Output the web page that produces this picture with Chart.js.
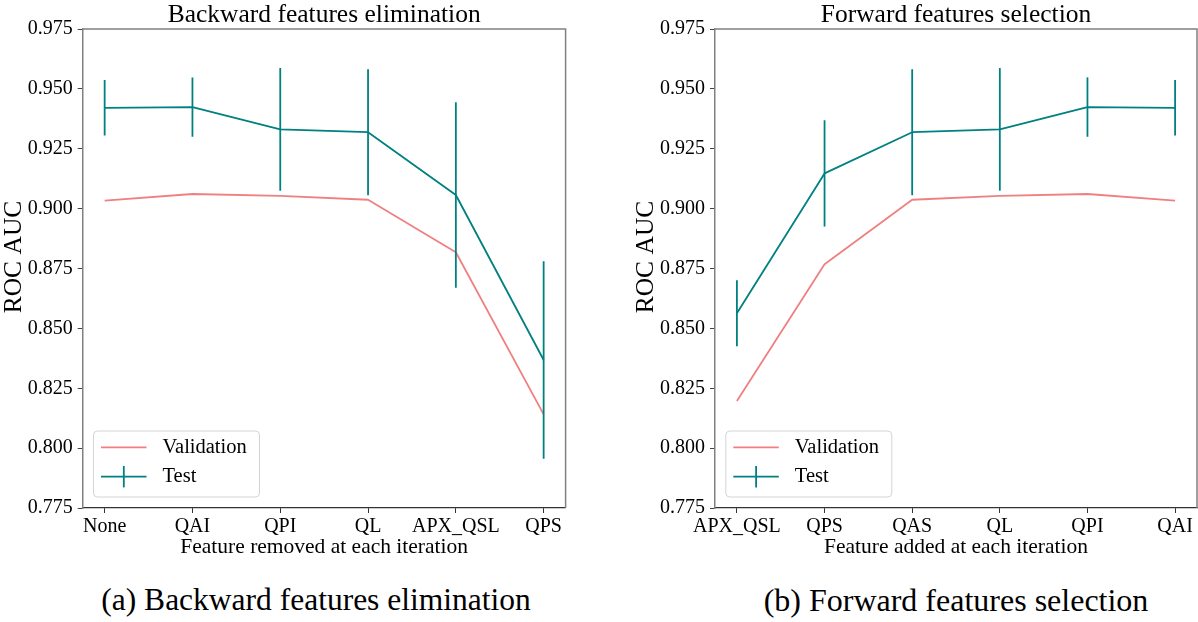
<!DOCTYPE html>
<html>
<head>
<meta charset="utf-8">
<script src="https://cdn.jsdelivr.net/npm/chart.js@4.4.1/dist/chart.umd.min.js"></script>
<style>
html, body { margin: 0; padding: 0; background: #fff; }
#wrap { position: relative; width: 1198px; height: 622px; overflow: hidden; background: #fff; }
canvas { position: absolute; top: 0; }
#c1 { left: 0; }
#c2 { left: 600px; }
.cap { position: absolute; top: 582px; font-family: 'Liberation Serif', serif; font-size: 31.5px; line-height: 36px; white-space: nowrap; color: #000; transform: translateX(-50%); }
</style>
</head>
<body>
<div id="wrap">
  <canvas id="c1" width="600" height="570"></canvas>
  <canvas id="c2" width="598" height="570"></canvas>
  <div class="cap" style="left:316px">(a) Backward features elimination</div>
  <div class="cap" style="left:956px;font-size:32px">(b) Forward features selection</div>
</div>
<script>
// ---- data ----
const rocTicks = [0.775, 0.800, 0.825, 0.850, 0.875, 0.900, 0.925, 0.950, 0.975];

const backwardFeatures   = ['None', 'QAI', 'QPI', 'QL', 'APX_QSL', 'QPS'];
const backwardValidation = [0.9033, 0.9061, 0.9053, 0.9037, 0.8818, 0.8141];
const backwardTest       = [0.9421, 0.9424, 0.9331, 0.9319, 0.9057, 0.8368];
const backwardTestErr    = [0.0116, 0.0124, 0.0256, 0.0263, 0.0387, 0.0412];

const forwardFeatures   = ['APX_QSL', 'QPS', 'QAS', 'QL', 'QPI', 'QAI'];
const forwardValidation = [0.8197, 0.8768, 0.9037, 0.9053, 0.9061, 0.9033];
const forwardTest       = [0.8563, 0.9147, 0.9319, 0.9331, 0.9424, 0.9421];
const forwardTestErr    = [0.0138, 0.0222, 0.0263, 0.0256, 0.0124, 0.0116];

const VAL_COLOR = '#f08080';
const TEST_COLOR = '#008080';
const FONT = "'Liberation Serif', 'Times New Roman', serif";

Chart.defaults.font.family = FONT;
Chart.defaults.color = '#000';

// ---- plugins ----
const errorBarPlugin = {
  id: 'errorBars',
  afterDatasetsDraw(chart) {
    const { ctx, chartArea: a, scales: { x, y } } = chart;
    ctx.save();
    ctx.beginPath();
    ctx.rect(a.left, a.top, a.right - a.left, a.bottom - a.top);
    ctx.clip();
    chart.data.datasets.forEach(ds => {
      if (!ds.errors) return;
      ctx.strokeStyle = ds.borderColor;
      ctx.lineWidth = ds.borderWidth;
      ds.data.forEach((p, i) => {
        const px = x.getPixelForValue(p.x);
        ctx.beginPath();
        ctx.moveTo(px, y.getPixelForValue(p.y + ds.errors[i]));
        ctx.lineTo(px, y.getPixelForValue(p.y - ds.errors[i]));
        ctx.stroke();
      });
    });
    ctx.restore();
  }
};

const framePlugin = {
  id: 'frame',
  beforeDatasetsDraw(chart) {
    const { ctx, chartArea: a } = chart;
    ctx.save();
    ctx.strokeStyle = '#808080';
    ctx.lineWidth = 1.5;
    ctx.beginPath();
    ctx.moveTo(a.left, a.top);
    ctx.lineTo(a.right, a.top);
    ctx.lineTo(a.right, a.bottom);
    ctx.stroke();
    ctx.restore();
  }
};

// axes-centred title and y-axis label (matplotlib style)
const axTitlePlugin = {
  id: 'axTitle',
  afterDraw(chart, args, opts) {
    const { ctx, chartArea: a } = chart;
    ctx.save();
    ctx.fillStyle = '#000';
    ctx.textAlign = 'center';
    ctx.textBaseline = 'alphabetic';
    ctx.font = '25.5px ' + FONT;
    ctx.fillText(opts.text, (a.left + a.right) / 2, 21.7);
    ctx.translate(a.left - opts.yLabelGap, (a.top + a.bottom) / 2 - 11.5);
    ctx.rotate(-Math.PI / 2);
    ctx.font = '25.5px ' + FONT;
    ctx.fillText(opts.yText, 0, 0);
    ctx.restore();
  }
};

const boxLegendPlugin = {
  id: 'boxLegend',
  afterDraw(chart) {
    const { ctx, chartArea: a } = chart;
    const left = a.left + 10.8, w = 166, h = 66;
    const top = a.bottom - 11 - h;
    const r = 4;
    ctx.save();
    ctx.beginPath();
    ctx.moveTo(left + r, top);
    ctx.lineTo(left + w - r, top);
    ctx.arcTo(left + w, top, left + w, top + r, r);
    ctx.lineTo(left + w, top + h - r);
    ctx.arcTo(left + w, top + h, left + w - r, top + h, r);
    ctx.lineTo(left + r, top + h);
    ctx.arcTo(left, top + h, left, top + h - r, r);
    ctx.lineTo(left, top + r);
    ctx.arcTo(left, top, left + r, top, r);
    ctx.closePath();
    ctx.fillStyle = 'rgba(255,255,255,0.8)';
    ctx.fill();
    ctx.strokeStyle = '#d4d4d4';
    ctx.lineWidth = 1;
    ctx.stroke();
    chart.data.datasets.forEach((ds, i) => {
      const yy = top + 16.3 + i * 29.4;
      ctx.strokeStyle = ds.borderColor;
      ctx.lineWidth = ds.borderWidth;
      ctx.beginPath();
      ctx.moveTo(left + 7.5, yy);
      ctx.lineTo(left + 53, yy);
      ctx.stroke();
      if (ds.errors) {
        ctx.beginPath();
        ctx.moveTo(left + 30.3, yy - 10.7);
        ctx.lineTo(left + 30.3, yy + 10.7);
        ctx.stroke();
      }
      ctx.fillStyle = '#000';
      ctx.font = '20.5px ' + FONT;
      ctx.textBaseline = 'middle';
      ctx.textAlign = 'left';
      ctx.fillText(ds.label, left + 69, yy);
    });
    ctx.restore();
  }
};

// ---- chart builder ----
function makeChart(id, cfg) {
  const { labels, validation, test, testErr, title, xTitle, yWidth, padRight } = cfg;
  return new Chart(document.getElementById(id), {
    type: 'line',
    data: {
      datasets: [
        {
          label: 'Validation',
          data: labels.map((_, i) => ({ x: i, y: validation[i] })),
          borderColor: VAL_COLOR, backgroundColor: VAL_COLOR,
          borderWidth: 1.8, pointRadius: 0, tension: 0, fill: false,
          borderJoinStyle: 'round', order: 1
        },
        {
          label: 'Test',
          data: labels.map((_, i) => ({ x: i, y: test[i] })),
          errors: testErr,
          borderColor: TEST_COLOR, backgroundColor: TEST_COLOR,
          borderWidth: 1.8, pointRadius: 0, tension: 0, fill: false,
          borderJoinStyle: 'round', order: 0
        }
      ]
    },
    options: {
      responsive: false,
      animation: false,
      devicePixelRatio: 1,
      layout: { padding: { left: 0, right: padRight, top: 29, bottom: 0 } },
      plugins: {
        legend: { display: false },
        tooltip: { enabled: false },
        title: { display: false },
        axTitle: { text: title, yText: 'ROC AUC', yLabelGap: 61.7 }
      },
      scales: {
        x: {
          type: 'linear', min: -0.25, max: 5.25,
          afterBuildTicks: s => { s.ticks = labels.map((_, i) => ({ value: i })); },
          afterFit: s => { s.height = 62; },
          ticks: {
            callback: v => labels[v], autoSkip: false, maxRotation: 0, minRotation: 0,
            color: '#000', font: { size: 20 }, padding: 2
          },
          grid: { display: true, drawOnChartArea: false, drawTicks: true, tickLength: 5, color: '#333' },
          border: { display: true, color: '#333', width: 1.2 },
          title: {
            display: true, text: xTitle, color: '#000',
            font: { size: 21.5, lineHeight: 1.2 }, padding: { top: 0, bottom: 10 }
          }
        },
        y: {
          min: 0.775, max: 0.975,
          afterBuildTicks: s => { s.ticks = rocTicks.map(v => ({ value: v })); },
          afterFit: s => { s.width = yWidth; },
          ticks: { callback: v => Number(v).toFixed(3), color: '#000', font: { size: 20 }, padding: 5 },
          grid: { display: true, drawOnChartArea: false, drawTicks: true, tickLength: 5, color: '#444' },
          border: { display: true, color: '#808080', width: 1.5 },
          title: { display: false }
        }
      }
    },
    plugins: [framePlugin, errorBarPlugin, boxLegendPlugin, axTitlePlugin]
  });
}

makeChart('c1', {
  labels: backwardFeatures, validation: backwardValidation, test: backwardTest, testErr: backwardTestErr,
  title: 'Backward features elimination', xTitle: 'Feature removed at each iteration',
  yWidth: 82.7, padRight: 34.4
});
makeChart('c2', {
  labels: forwardFeatures, validation: forwardValidation, test: forwardTest, testErr: forwardTestErr,
  title: 'Forward features selection', xTitle: 'Feature added at each iteration',
  yWidth: 115, padRight: 1
});
</script>
</body>
</html>
